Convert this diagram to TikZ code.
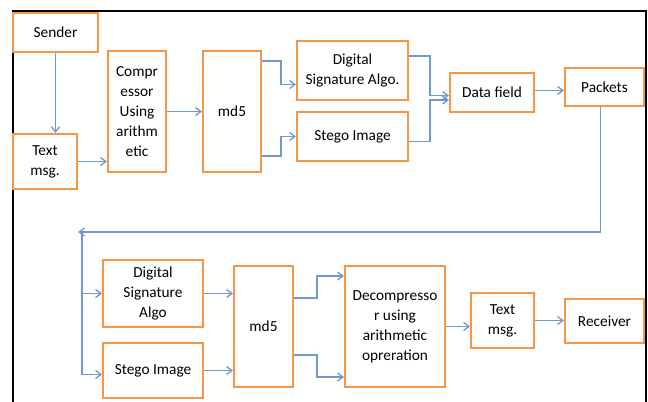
\documentclass[tikz,border=0pt]{standalone}
\usepackage{fontspec}
\setmainfont{Carlito}
\usetikzlibrary{arrows.meta,calc,positioning}
\definecolor{boxline}{HTML}{F79646}
\definecolor{flow}{HTML}{7199CF}
\tikzset{>={Straight Barb[length=4pt,width=6pt]},
  every node/.style={font=\fontsize{11.5}{15}\selectfont},
  block/.style={draw=boxline,line width=1.5pt,fill=white,align=center,inner sep=1pt},
  size/.style 2 args={minimum width=#1*0.75pt,minimum height=#2*0.75pt},
  link/.style={->,draw=flow,line width=1pt}}
\begin{document}
\begin{tikzpicture}[x=0.75pt,y=-0.75pt]
\useasboundingbox (0,0) rectangle (648,401);
\draw[black,line width=1.6pt] (13,402)--(13,11)--(646,11)--(646,402);
% sending side
\node[block,size={85}{39}] (sender) at (55.5,32.5) {Sender};
\node[block,size={64}{55}] (txtA) at (45,161.5) {Text\\msg.};
\node[block,size={58}{121}] (comp) at (137,111.5) {Compr\\essor\\Using\\arithm\\etic};
\node[block,size={58}{121}] (mdA) at (232,111.5) {md5};
\node[block,size={111}{59}] (dsaA) at (352.5,70.5) {Digital\\Signature Algo.};
\node[block,size={111}{49}] (stegoA) at (352.5,136.5) {Stego Image};
\node[block,size={84}{39}] (data) at (492,92.5) {Data field};
\node[block,size={79}{38}] (packets) at (604.5,87) {Packets};
% receiving side
\node[block,size={100}{67}] (dsaB) at (153,293.5) {Digital\\Signature\\Algo};
\node[block,size={100}{55}] (stegoB) at (153,370.5) {Stego Image};
\node[block,size={59}{121}] (mdB) at (263.5,326.5) {md5};
\node[block,size={100}{121}] (decomp) at (395,326.5) {Decompresso\\r using\\arithmetic\\opreration};
\node[block,size={63}{55}] (txtB) at (502.5,320.5) {Text\\msg.};
\node[block,size={79}{44}] (recv) at (604.5,321) {Receiver};
% connectors
\draw[link] (sender.south) -- (sender.south |- txtA.north);
\draw[link] (txtA.east) -- (txtA.east -| comp.west);
\draw[link] (comp.east) -- (comp.east -| mdA.west);
\draw[link] ($(mdA.north east)+(0,11)$) -- ++(19,0) |- ($(dsaA.west)+(0,14)$);
\draw[link] ($(mdA.south east)+(0,-17)$) -- ++(19,0) |- (stegoA.west);
\draw[link] ($(dsaA.north east)+(0,16)$) -- ++(21,0) |- ($(data.west)+(0,3)$);
\draw[link] ($(stegoA.east)+(0,5)$) -- ++(21,0) |- ($(data.west)+(0,7.5)$);
\draw[link] ($(data.east)+(0,-2)$) coordinate (d1) -- (d1 -| packets.west);
\coordinate (back) at (78,232);
\coordinate (split) at (82,232);
\draw[link] ($(packets.south)+(-4,0)$) |- (back);
\draw[link] (split) |- ($(stegoB.west)+(0,4)$);
\draw[link] (split |- dsaB.west) -- (dsaB.west);
\draw[link] (dsaB.east) -- (dsaB.east -| mdB.west);
\draw[link] (stegoB.east) -- (stegoB.east -| mdB.west);
\draw[link] ($(mdB.north east)+(0,33)$) -- ++(23,0) |- ($(decomp.north west)+(0,11)$);
\draw[link] ($(mdB.south east)+(0,-33)$) -- ++(23,0) |- ($(decomp.south west)+(0,-11)$);
\draw[link] (decomp.east) -- (decomp.east -| txtB.west);
\draw[link] (txtB.east) -- (txtB.east -| recv.west);
\end{tikzpicture}
\end{document}
